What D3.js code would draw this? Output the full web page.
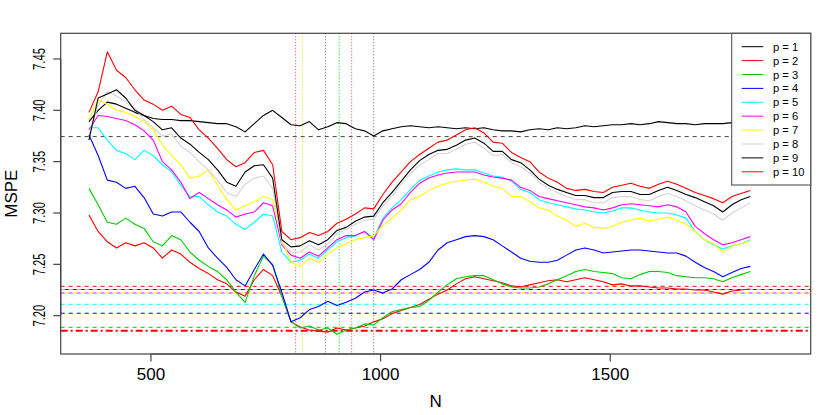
<!DOCTYPE html>
<html><head><meta charset="utf-8">
<script src="https://cdn.jsdelivr.net/npm/d3@7"></script>
<style>body{margin:0;background:#fff}svg{display:block}text{font-family:"Liberation Sans",Arial,sans-serif;fill:#000}</style>
</head><body><svg id="c" width="830" height="415"></svg>
<script>
const N=[365,385,405,425,445,465,485,505,525,545,565,585,605,625,645,665,685,705,725,745,765,785,805,825,845,865,885,905,925,945,965,985,1005,1025,1045,1065,1085,1105,1125,1145,1165,1185,1205,1225,1245,1265,1285,1305,1325,1345,1365,1385,1405,1425,1445,1465,1485,1505,1525,1545,1565,1585,1605,1625,1645,1665,1685,1705,1725,1745,1765,1785,1805];
const p1=[7.389,7.400,7.408,7.406,7.402,7.398,7.395,7.392,7.391,7.391,7.390,7.390,7.389,7.388,7.387,7.387,7.384,7.379,7.387,7.395,7.400,7.393,7.386,7.385,7.389,7.381,7.384,7.388,7.387,7.382,7.380,7.375,7.380,7.382,7.384,7.385,7.384,7.383,7.384,7.383,7.382,7.383,7.382,7.383,7.381,7.380,7.380,7.379,7.381,7.382,7.381,7.383,7.382,7.383,7.385,7.384,7.385,7.386,7.386,7.387,7.386,7.387,7.389,7.388,7.387,7.387,7.386,7.387,7.387,7.387,7.388,7.386,7.387];
const p2=[7.298,7.282,7.272,7.266,7.271,7.268,7.271,7.266,7.256,7.264,7.260,7.252,7.246,7.241,7.235,7.231,7.223,7.219,7.235,7.245,7.239,7.219,7.194,7.189,7.186,7.185,7.184,7.188,7.186,7.188,7.190,7.194,7.197,7.202,7.205,7.208,7.211,7.216,7.221,7.225,7.231,7.236,7.238,7.236,7.234,7.232,7.229,7.228,7.230,7.232,7.234,7.235,7.233,7.235,7.237,7.235,7.233,7.230,7.231,7.229,7.229,7.228,7.227,7.227,7.226,7.226,7.225,7.225,7.223,7.221,7.224,7.225,7.226];
const p3=[7.324,7.308,7.291,7.289,7.295,7.289,7.285,7.272,7.268,7.278,7.274,7.262,7.254,7.248,7.243,7.235,7.223,7.213,7.239,7.258,7.250,7.219,7.194,7.188,7.190,7.186,7.188,7.182,7.186,7.188,7.192,7.191,7.198,7.204,7.206,7.208,7.209,7.215,7.223,7.230,7.236,7.238,7.239,7.239,7.235,7.231,7.228,7.227,7.227,7.228,7.231,7.235,7.239,7.243,7.245,7.243,7.242,7.241,7.237,7.236,7.240,7.243,7.243,7.242,7.239,7.238,7.237,7.237,7.236,7.233,7.237,7.240,7.243];
const p4=[7.376,7.356,7.332,7.330,7.324,7.326,7.315,7.299,7.297,7.301,7.301,7.291,7.282,7.266,7.256,7.247,7.235,7.229,7.245,7.260,7.249,7.223,7.194,7.198,7.206,7.209,7.214,7.210,7.213,7.217,7.223,7.225,7.222,7.226,7.235,7.240,7.245,7.252,7.264,7.271,7.274,7.277,7.278,7.277,7.274,7.268,7.262,7.256,7.253,7.252,7.252,7.254,7.259,7.264,7.266,7.264,7.261,7.262,7.263,7.264,7.264,7.263,7.262,7.261,7.261,7.258,7.252,7.247,7.243,7.238,7.242,7.246,7.248];
const p5=[7.383,7.383,7.371,7.361,7.358,7.352,7.361,7.356,7.347,7.340,7.327,7.316,7.316,7.308,7.301,7.297,7.289,7.284,7.291,7.299,7.297,7.262,7.252,7.254,7.260,7.256,7.264,7.272,7.276,7.278,7.282,7.276,7.295,7.305,7.313,7.323,7.332,7.336,7.340,7.342,7.343,7.342,7.342,7.339,7.336,7.335,7.331,7.323,7.320,7.313,7.310,7.308,7.306,7.304,7.303,7.301,7.300,7.302,7.305,7.305,7.303,7.301,7.300,7.300,7.298,7.295,7.282,7.274,7.269,7.265,7.268,7.270,7.274];
const p6=[7.381,7.395,7.394,7.392,7.390,7.386,7.380,7.371,7.350,7.342,7.330,7.314,7.320,7.314,7.308,7.303,7.296,7.299,7.301,7.310,7.307,7.269,7.259,7.256,7.262,7.258,7.266,7.274,7.278,7.278,7.282,7.274,7.293,7.303,7.309,7.320,7.329,7.334,7.337,7.339,7.340,7.340,7.340,7.337,7.335,7.334,7.332,7.325,7.322,7.316,7.314,7.312,7.310,7.308,7.306,7.305,7.303,7.305,7.308,7.309,7.308,7.307,7.306,7.308,7.306,7.301,7.287,7.280,7.274,7.269,7.271,7.274,7.277];
const p7=[7.391,7.410,7.406,7.400,7.398,7.394,7.389,7.381,7.366,7.356,7.347,7.334,7.336,7.342,7.327,7.313,7.303,7.307,7.311,7.316,7.313,7.274,7.252,7.248,7.256,7.252,7.260,7.266,7.270,7.274,7.276,7.278,7.288,7.295,7.303,7.313,7.316,7.322,7.326,7.329,7.331,7.332,7.333,7.330,7.326,7.324,7.316,7.316,7.311,7.305,7.303,7.297,7.293,7.287,7.290,7.286,7.285,7.287,7.291,7.293,7.295,7.292,7.294,7.296,7.293,7.289,7.282,7.274,7.270,7.262,7.268,7.270,7.273];
const p8=[7.376,7.405,7.418,7.414,7.408,7.402,7.391,7.383,7.375,7.377,7.365,7.359,7.350,7.342,7.332,7.320,7.316,7.328,7.334,7.336,7.324,7.270,7.262,7.262,7.269,7.264,7.270,7.280,7.284,7.289,7.293,7.294,7.307,7.317,7.328,7.338,7.347,7.352,7.358,7.358,7.362,7.367,7.369,7.363,7.356,7.357,7.349,7.345,7.339,7.330,7.324,7.320,7.316,7.313,7.313,7.310,7.310,7.315,7.316,7.316,7.313,7.312,7.316,7.319,7.316,7.312,7.307,7.303,7.299,7.293,7.300,7.305,7.310];
const p9=[7.371,7.412,7.416,7.420,7.412,7.400,7.395,7.389,7.381,7.383,7.373,7.367,7.359,7.352,7.342,7.330,7.326,7.340,7.346,7.347,7.334,7.274,7.267,7.268,7.273,7.269,7.274,7.283,7.286,7.292,7.296,7.297,7.310,7.320,7.331,7.342,7.351,7.357,7.361,7.362,7.366,7.371,7.373,7.368,7.360,7.360,7.352,7.349,7.342,7.333,7.327,7.323,7.320,7.317,7.317,7.315,7.315,7.320,7.321,7.321,7.318,7.318,7.322,7.325,7.322,7.318,7.315,7.311,7.307,7.301,7.308,7.313,7.316];
const p10=[7.398,7.418,7.457,7.439,7.432,7.420,7.410,7.406,7.400,7.404,7.396,7.393,7.381,7.373,7.363,7.352,7.345,7.349,7.359,7.361,7.347,7.282,7.274,7.276,7.281,7.278,7.282,7.290,7.294,7.299,7.305,7.304,7.318,7.330,7.340,7.350,7.357,7.363,7.369,7.371,7.376,7.381,7.383,7.378,7.369,7.368,7.359,7.354,7.350,7.340,7.334,7.330,7.324,7.322,7.323,7.321,7.320,7.325,7.327,7.329,7.326,7.324,7.328,7.331,7.328,7.324,7.320,7.317,7.314,7.310,7.316,7.319,7.322];

const seriesNames=["p = 1","p = 2","p = 3","p = 4","p = 5","p = 6","p = 7","p = 8","p = 9","p = 10"];
const seriesColors=["black","red","#00cd00","blue","cyan","magenta","yellow","#d3d3d3","black","red"];
const xTicks=[500,1000,1500];
const xTickLabels=["500","1000","1500"];
const yTicks=[7.20,7.25,7.30,7.35,7.40,7.45];
const yTickLabels=["7.20","7.25","7.30","7.35","7.40","7.45"];
const hRefValues=[7.3744,7.2286,7.2255,7.2255,7.2221,7.2221,7.2111,7.2024,7.1887,7.1853];
const hRefColors=["#444","red","#bbb","#333","magenta","yellow","cyan","blue","#00cd00","red"];
const vRefValues=[815,830,880,910,937,985];
const vRefColors=["#c84068","#e8e000","#666","#00cd00","#e04040","#666"];

const series=[p1,p2,p3,p4,p5,p6,p7,p8,p9,p10];
const svg=d3.select("#c");
const L=60.7,R=810.7,T=33.3,B=354;
const x=d3.scaleLinear().domain([303.5,1936.5]).range([L,R]);
const y=d3.scaleLinear().domain([7.1627,7.475]).range([B,T]);

// vertical reference lines
svg.append("g").selectAll("line").data(vRefValues).join("line")
  .attr("x1",d=>x(d)).attr("x2",d=>x(d)).attr("y1",T).attr("y2",B)
  .attr("stroke",(d,i)=>vRefColors[i]).attr("stroke-width",1).attr("stroke-dasharray","1,2");

// horizontal reference lines
const hStyles=[{w:1,da:"4,4",off:0},{w:1,da:"4,4",off:0},{w:1,da:"4,4",off:0},{w:1,da:"4,4",off:4},{w:1,da:"4,4",off:0},{w:1,da:"4,4",off:4},{w:1,da:"4,4",off:0},{w:1,da:"4,4",off:0},{w:1,da:"4,4",off:0},{w:2,da:"7,3,2,3",off:0}];
svg.append("g").selectAll("line").data(hRefValues).join("line")
  .attr("x1",L).attr("x2",R).attr("y1",d=>y(d)).attr("y2",d=>y(d))
  .attr("stroke",(d,i)=>hRefColors[i]).attr("stroke-width",(d,i)=>hStyles[i].w)
  .attr("stroke-dasharray",(d,i)=>hStyles[i].da).attr("stroke-dashoffset",(d,i)=>hStyles[i].off);

// series
const line=d3.line().x((d,i)=>x(N[i])).y(d=>y(d));
svg.append("g").selectAll("path").data(series).join("path")
  .attr("d",d=>line(d)).attr("fill","none")
  .attr("stroke",(d,i)=>seriesColors[i]).attr("stroke-width",1.1).attr("stroke-linejoin","round");

// box
svg.append("rect").attr("x",L).attr("y",T).attr("width",R-L).attr("height",B-T)
  .attr("fill","none").attr("stroke","#444").attr("stroke-width",1.2);

// x axis
const gx=svg.append("g");
gx.append("line").attr("x1",x(xTicks[0])).attr("x2",x(xTicks[xTicks.length-1])).attr("y1",B).attr("y2",B).attr("stroke","#444").attr("stroke-width",1.2);
gx.selectAll("line.t").data(xTicks).join("line").attr("class","t")
  .attr("x1",d=>x(d)).attr("x2",d=>x(d)).attr("y1",B).attr("y2",B+7.5).attr("stroke","#444").attr("stroke-width",1.2);
gx.selectAll("text").data(xTicks).join("text")
  .attr("x",d=>x(d)).attr("y",380).attr("text-anchor","middle").attr("font-size",17).text((d,i)=>xTickLabels[i]);
svg.append("text").attr("x",(L+R)/2).attr("y",406.7).attr("text-anchor","middle").attr("font-size",17).text("N");

// y axis
const gy=svg.append("g");
gy.append("line").attr("x1",L).attr("x2",L).attr("y1",y(yTicks[0])).attr("y2",y(yTicks[yTicks.length-1])).attr("stroke","#444").attr("stroke-width",1.2);
gy.selectAll("line.t").data(yTicks).join("line").attr("class","t")
  .attr("x1",L).attr("x2",L-7.5).attr("y1",d=>y(d)).attr("y2",d=>y(d)).attr("stroke","#444").attr("stroke-width",1.2);
gy.selectAll("text").data(yTicks).join("text")
  .attr("transform",d=>`translate(45,${y(d)}) rotate(-90) scale(0.66,1)`)
  .attr("text-anchor","middle").attr("font-size",17).text((d,i)=>yTickLabels[i]);
svg.append("text").attr("transform",`translate(17,${(T+B)/2}) rotate(-90)`).attr("text-anchor","middle").attr("font-size",17).text("MSPE");

// legend
const lg=svg.append("g");
lg.append("rect").attr("x",731.7).attr("y",T).attr("width",R-731.7).attr("height",185-T)
  .attr("fill","white").attr("stroke","#444").attr("stroke-width",1);
const rowY=i=>46.7+i*13.9;
lg.selectAll("line").data(seriesNames).join("line")
  .attr("x1",741.7).attr("x2",763.3).attr("y1",(d,i)=>rowY(i)).attr("y2",(d,i)=>rowY(i))
  .attr("stroke",(d,i)=>seriesColors[i]).attr("stroke-width",1);
lg.selectAll("text").data(seriesNames).join("text")
  .attr("x",773).attr("y",(d,i)=>rowY(i)+4).attr("font-size",11.2).text(d=>d);
</script></body></html>
